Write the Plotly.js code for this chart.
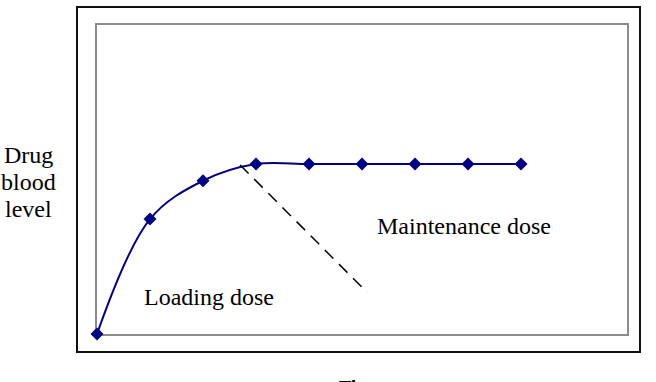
<!DOCTYPE html>
<html>
<head>
<meta charset="utf-8">
<script src="https://cdn.plot.ly/plotly-3.0.1.min.js"></script>
<style>html,body{margin:0;padding:0;background:#fff;}#chart{width:656px;height:382px;}</style>
</head>
<body>
<div id="chart"></div>
<script>
const times = [0, 1, 2, 3, 4, 5, 6, 7, 8];
const levels = [0, 3.72, 4.96, 5.5, 5.5, 5.5, 5.5, 5.5, 5.5];
const dashX = [2.70, 5.10];
const dashY = [5.47, 1.34];
const loadingLabel = {text: "Loading dose", x: 2.11, y: 1.2};
const maintenanceLabel = {text: "Maintenance dose", x: 6.93, y: 3.5};
const yLabelLines = ["Drug", "blood", "level"];
const xLabel = "Time";

const serif = "Times New Roman";

const traces = [
  {
    x: times, y: levels, type: "scatter", mode: "lines+markers",
    line: {color: "#000080", width: 2, shape: "spline", smoothing: 1},
    marker: {symbol: "diamond", size: 10, color: "#000080"},
    hoverinfo: "skip", cliponaxis: false
  },
  {
    x: dashX, y: dashY, type: "scatter", mode: "lines",
    line: {color: "#000000", width: 1.5, dash: "12px,8px"},
    hoverinfo: "skip"
  }
];

const annotations = [
  {x: loadingLabel.x, y: loadingLabel.y, xref: "x", yref: "y", text: loadingLabel.text, showarrow: false,
   font: {family: serif, size: 24, color: "#000"}},
  {x: maintenanceLabel.x, y: maintenanceLabel.y, xref: "x", yref: "y", text: maintenanceLabel.text, showarrow: false,
   font: {family: serif, size: 24, color: "#000"}},
  {x: 0.5, y: -0.133, xref: "paper", yref: "paper", yanchor: "top", text: "<b>" + xLabel + "</b>", showarrow: false,
   font: {family: "Arial", size: 20, color: "#000"}}
];
yLabelLines.forEach(function (t, i) {
  annotations.push({x: -0.130, y: 0.492 + (1 - i) * 27 / 309, xref: "paper", yref: "paper",
    text: t, showarrow: false, xanchor: "center", yanchor: "middle",
    font: {family: serif, size: 24, color: "#000"}});
});

const layout = {
  width: 656, height: 382,
  margin: {l: 97, r: 29, t: 25, b: 48, pad: 0},
  paper_bgcolor: "#ffffff", plot_bgcolor: "#ffffff",
  showlegend: false,
  xaxis: {range: [0, 10], showgrid: false, zeroline: false, showticklabels: false, ticks: "",
          showline: true, mirror: true, linecolor: "#8c8c8c", linewidth: 2, fixedrange: true, layer: "below traces"},
  yaxis: {range: [0, 10], showgrid: false, zeroline: false, showticklabels: false, ticks: "",
          showline: true, mirror: true, linecolor: "#8c8c8c", linewidth: 2, fixedrange: true, layer: "below traces"},
  shapes: [
    {type: "rect", xref: "paper", yref: "paper",
     x0: -20 / 530, x1: 1 + 13 / 530, y0: -18 / 309, y1: 1 + 18 / 309,
     line: {color: "#111111", width: 2}, fillcolor: "rgba(0,0,0,0)", layer: "below"}
  ],
  annotations: annotations
};

Plotly.newPlot("chart", traces, layout, {staticPlot: true, displayModeBar: false});
</script>
</body>
</html>
